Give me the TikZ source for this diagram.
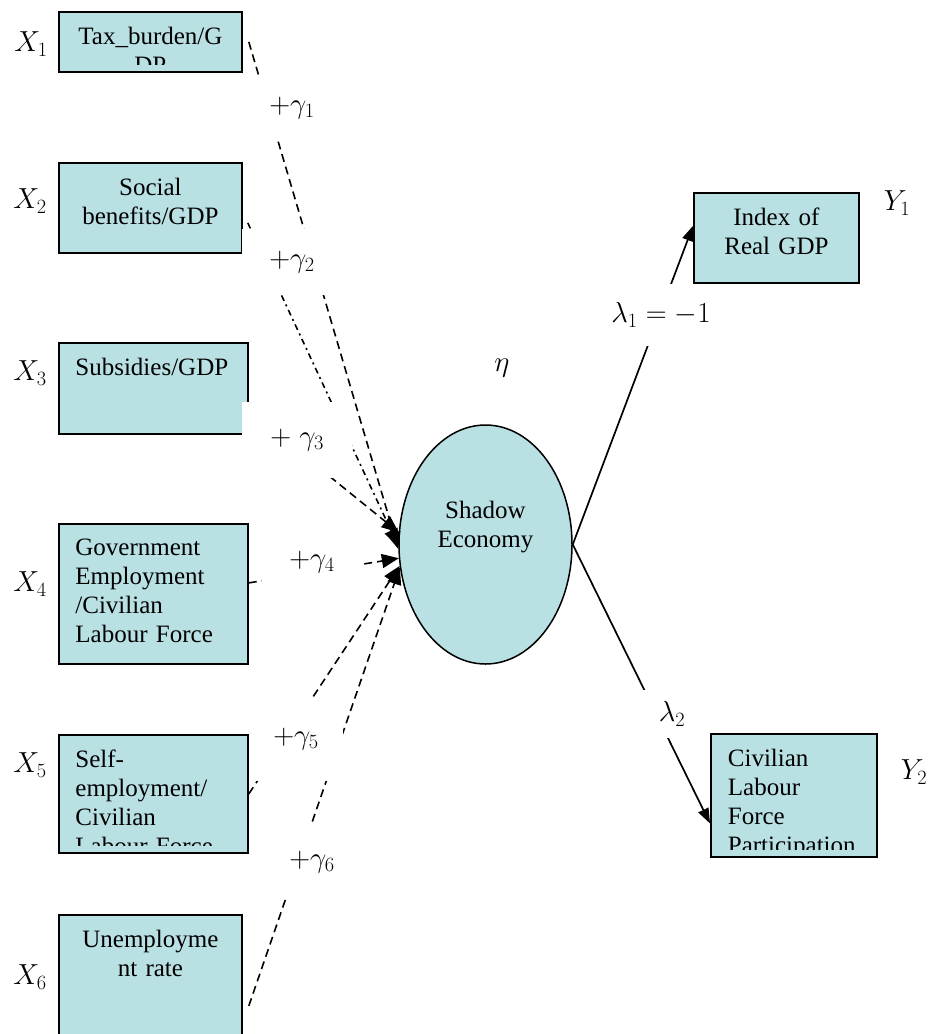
\RequirePackage{fix-cm}
\documentclass[tikz,border=0pt]{standalone}
\usepackage{fontspec}
\setmainfont{Liberation Serif}
\usetikzlibrary{arrows.meta,shapes.geometric}
\definecolor{boxfill}{HTML}{B9E0E3}
\newcommand\varfont{\fontsize{25}{29}\selectfont}
\newcommand\symfont{\fontsize{29}{34}\selectfont}
\tikzset{
  var/.style={draw, fill=boxfill, line width=1.8pt, inner sep=0pt, anchor=north west},
  vartext/.style={inner sep=0pt, anchor=north, font=\varfont},
  latent/.style={ellipse, draw, fill=boxfill, line width=1.5pt, inner sep=0pt, minimum width=173pt, minimum height=239pt, font=\varfont, align=center},
  sym/.style={font=\symfont, inner sep=0pt},
  coef/.style={sym, fill=white, minimum width=100pt, minimum height=66pt},
  cause/.style={line width=1.6pt, dash pattern=on 8pt off 5pt, -{Triangle[length=17pt,width=14pt]}},
  load/.style={line width=1.7pt, -{Triangle[length=15pt,width=11pt]}},
}

\begin{document}
\begin{tikzpicture}[x=1pt,y=-1pt]
\clip (0,0) rectangle (930,1034);
\node[var, minimum width=183pt, minimum height=60pt] (x1) at (58,11) {};
\node[var, minimum width=183pt, minimum height=90pt] (x2) at (58,162) {};
\node[var, minimum width=189pt, minimum height=91pt] (x3) at (58,342) {};
\node[var, minimum width=189pt, minimum height=140pt] (x4) at (58,523) {};
\node[var, minimum width=189pt, minimum height=118pt] (x5) at (58,734) {};
\node[var, minimum width=183pt, minimum height=140pt] (x6) at (58,914) {};
\node[var, minimum width=165pt, minimum height=90pt] (y1) at (693,192) {};
\node[var, minimum width=166pt, minimum height=123pt] (y2) at (710,733) {};
\node[latent] (shadow) at (485.5,544.5) {Shadow\\Economy\\[12pt]\mbox{}};

\begin{scope}
\clip ([yshift=8pt]x1.south west) rectangle (x1.north east);
\node[vartext, text width=150pt, align=center] (t1) at ([yshift=-16pt]x1.north) {Tax\_burden/G\\DP};
\end{scope}
\begin{scope}
\clip ([yshift=8pt]x2.south west) rectangle (x2.north east);
\node[vartext, text width=150pt, align=center] (t2) at ([yshift=-16pt]x2.north) {Social\\benefits/GDP};
\end{scope}
\begin{scope}
\clip ([yshift=8pt]x3.south west) rectangle (x3.north east);
\node[vartext, text width=156pt, align=left] (t3) at ([yshift=-16pt]x3.north) {Subsidies/GDP};
\end{scope}
\begin{scope}
\clip ([yshift=8pt]x4.south west) rectangle (x4.north east);
\node[vartext, text width=156pt, align=left] (t4) at ([yshift=-16pt]x4.north) {Government\\Employment\\/Civilian\\Labour Force};
\end{scope}
\begin{scope}
\clip ([yshift=8pt]x5.south west) rectangle (x5.north east);
\node[vartext, text width=156pt, align=left] (t5) at ([yshift=-16pt]x5.north) {Self-\\employment/\\Civilian\\Labour Force};
\end{scope}
\begin{scope}
\clip ([yshift=8pt]x6.south west) rectangle (x6.north east);
\node[vartext, text width=150pt, align=center] (t6) at ([yshift=-16pt]x6.north) {Unemployme\\nt rate};
\end{scope}
\begin{scope}
\clip ([yshift=8pt]y1.south west) rectangle (y1.north east);
\node[vartext, text width=150pt, align=center] (s1) at ([yshift=-16pt]y1.north) {Index of\\Real GDP};
\end{scope}
\begin{scope}
\clip ([yshift=8pt]y2.south west) rectangle (y2.north east);
\node[vartext, text width=132pt, align=left] (s2) at ([yshift=-16pt]y2.north) {Civilian\\Labour\\Force\\Participation};
\end{scope}

\node[sym] (lx1) at (31,44) {$X_1$};
\node[sym] (lx2) at (30,201) {$X_2$};
\node[sym] (lx3) at (30,373) {$X_3$};
\node[sym] (lx4) at (30,584) {$X_4$};
\node[sym] (lx5) at (30,765) {$X_5$};
\node[sym] (lx6) at (30,977) {$X_6$};
\node[sym] (ly1) at (897,203) {$Y_1$};
\node[sym] (ly2) at (914,772) {$Y_2$};
\node[sym] (eta) at (502,368) {$\eta$};

\draw[cause] ([xshift=6pt]x1.east) -- (shadow.183);
\draw[cause, dash pattern=on 6pt off 4pt on 2pt off 4pt] ([xshift=5pt,yshift=-15pt]x2.east) -- (shadow.181);
\draw[cause] ([yshift=-22.5pt]x3.east) -- (shadow.172);
\draw[cause] ([yshift=11pt]x4.east) -- (shadow.189);
\draw[cause] (x5.east) -- (shadow.194);
\draw[cause] ([xshift=6pt,yshift=-21pt]x6.east) -- (shadow.195);
\draw[load] (shadow.east) -- ([yshift=12pt]y1.west);
\draw[load] (shadow.east) -- ([yshift=-28pt]y2.west);

\node[coef] (g1) at (292,108) {$+\gamma_1$};
\node[coef] (g2) at (292,262) {$+\gamma_2$};
\node[coef, minimum width=110pt, minimum height=76pt, anchor=west] (g3) at (242,440) {$+\;\gamma_3$};
\node[coef] (g4) at (312,562) {$+\gamma_4$};
\node[coef, minimum width=94pt, minimum height=83pt] (g5) at (296,739) {$+\gamma_5$};
\node[coef, minimum height=72pt] (g6) at (312,862) {$+\gamma_6$};
\node[sym, fill=white, minimum width=96pt, minimum height=62pt] (l1) at (661,315) {$\lambda_1=-1$};
\node[sym, fill=white, minimum width=64pt, minimum height=48pt] (l2) at (672,714) {$\lambda_2$};
\end{tikzpicture}
\end{document}
